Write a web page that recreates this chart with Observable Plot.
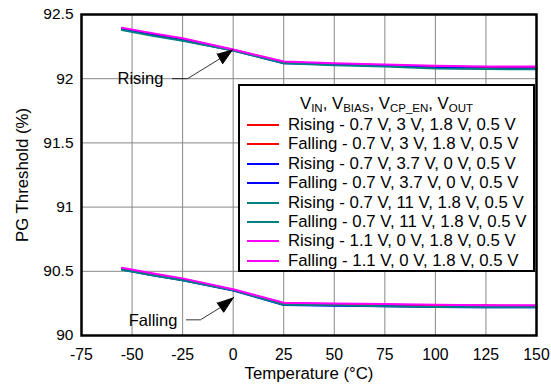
<!DOCTYPE html>
<html>
<head>
<meta charset="utf-8">
<script src="https://cdn.jsdelivr.net/npm/d3@7"></script>
<script src="https://cdn.jsdelivr.net/npm/@observablehq/plot@0.6"></script>
<style>
  html, body { margin: 0; padding: 0; background: #fff; }
  #wrap { position: relative; width: 551px; height: 385px; font-family: "Liberation Sans", Arial, sans-serif; }
  #legend { position: absolute; left: 238px; top: 84px; width: 293px; height: 184px; border: 2px solid #000; background: #fff; font-size: 16.8px; color: #000; }
  #legend .title { position: absolute; left: 0; right: 0; top: 9px; text-align: center; line-height: 18px; }
  #legend sub { font-size: 11.5px; vertical-align: -3px; line-height: 0; }
  #legend .row { position: absolute; left: 0; height: 19px; line-height: 19px; white-space: nowrap; }
  #legend .sw { position: absolute; left: 7px; top: 9px; width: 32px; height: 2px; }
  #legend .lab { position: absolute; left: 48px; top: 0; }
</style>
</head>
<body>
<div id="wrap"></div>
<script>
// ---- data ----
const temps = [-55, -40, -25, 0, 25, 50, 75, 100, 125, 150];
const seriesNames = [
  "Rising - 0.7 V, 3 V, 1.8 V, 0.5 V",
  "Falling - 0.7 V, 3 V, 1.8 V, 0.5 V",
  "Rising - 0.7 V, 3.7 V, 0 V, 0.5 V",
  "Falling - 0.7 V, 3.7 V, 0 V, 0.5 V",
  "Rising - 0.7 V, 11 V, 1.8 V, 0.5 V",
  "Falling - 0.7 V, 11 V, 1.8 V, 0.5 V",
  "Rising - 1.1 V, 0 V, 1.8 V, 0.5 V",
  "Falling - 1.1 V, 0 V, 1.8 V, 0.5 V"
];
const seriesColors = ["#FF0000", "#FF0000", "#0000FF", "#0000FF", "#008080", "#008080", "#FF00FF", "#FF00FF"];
const risingRed     = [92.390, 92.350, 92.310, 92.225, 92.130, 92.115, 92.105, 92.095, 92.090, 92.090];
const fallingRed    = [90.520, 90.480, 90.440, 90.355, 90.250, 90.245, 90.240, 90.235, 90.235, 90.230];
const risingBlue    = [92.385, 92.340, 92.300, 92.220, 92.120, 92.110, 92.100, 92.085, 92.080, 92.080];
const fallingBlue   = [90.514, 90.470, 90.430, 90.350, 90.238, 90.232, 90.228, 90.222, 90.220, 90.220];
const risingTeal    = [92.380, 92.335, 92.295, 92.220, 92.120, 92.105, 92.095, 92.080, 92.075, 92.074];
const fallingTeal   = [90.512, 90.470, 90.430, 90.352, 90.240, 90.235, 90.228, 90.222, 90.220, 90.220];
const risingMagenta = [92.396, 92.355, 92.315, 92.227, 92.134, 92.120, 92.110, 92.100, 92.095, 92.095];
const fallingMagenta= [90.527, 90.485, 90.445, 90.360, 90.255, 90.250, 90.245, 90.240, 90.236, 90.236];
const seriesValues = [risingRed, fallingRed, risingBlue, fallingBlue, risingTeal, fallingTeal, risingMagenta, fallingMagenta];

const xTicks = [-75, -50, -25, 0, 25, 50, 75, 100, 125, 150];
const yTicks = [90, 90.5, 91, 91.5, 92, 92.5];
const xLabel = "Temperature (°C)";
const yLabel = "PG Threshold (%)";
const legendTitle = "V<sub>IN</sub>, V<sub>BIAS</sub>, V<sub>CP_EN</sub>, V<sub>OUT</sub>";

// annotations (data units)
const notes = [
  {text: "Rising", x: -34.5, y: 92.0},
  {text: "Falling", x: -27.6, y: 90.117}
];
const risingShaft = [{x: -30.0, y: 92.0}, {x: -22.6, y: 92.0}, {x: -6.6, y: 92.155}];
const risingHead = [{x: -7.95, y: 92.194}, {x: -5.19, y: 92.116}, {x: -0.25, y: 92.227}];
const fallingShaft = [{x: -23.1, y: 90.122}, {x: -16.2, y: 90.122}, {x: -6.3, y: 90.218}];
const fallingHead = [{x: -7.95, y: 90.255}, {x: -4.69, y: 90.181}, {x: 0.25, y: 90.298}];

// ---- build ----
const data = seriesNames.flatMap((name, i) => temps.map((t, j) => ({name, i, t, v: seriesValues[i][j]})));

const chart = Plot.plot({
  width: 551,
  height: 385,
  marginLeft: 81,
  marginRight: 15,
  marginTop: 14,
  marginBottom: 50,
  style: {fontFamily: '"Liberation Sans", Arial, sans-serif', fontSize: "15.5px", background: "#fff", color: "#000"},
  x: {domain: [-75, 150]},
  y: {domain: [90, 92.5]},
  color: {type: "identity"},
  marks: [
    Plot.gridX(xTicks.slice(1, -1), {stroke: "#888", strokeOpacity: 1, strokeWidth: 1}),
    Plot.gridY(yTicks.slice(1, -1), {stroke: "#888", strokeOpacity: 1, strokeWidth: 1}),
    Plot.axisX({ticks: xTicks, tickSize: 0, tickPadding: 13, tickFormat: d => String(d), label: null, fontSize: 15.8}),
    Plot.axisY({ticks: yTicks, tickSize: 0, tickPadding: 8, tickFormat: d => String(d), label: null, fontSize: 15.5}),
    Plot.text([xLabel], {frameAnchor: "bottom", lineAnchor: "middle", textAnchor: "middle", dy: 38, text: d => d, fontSize: 16.8}),
    Plot.text([yLabel], {frameAnchor: "left", lineAnchor: "middle", textAnchor: "middle", dx: -58.5, rotate: -90, text: d => d, fontSize: 16.8}),
    Plot.line(data, {x: "t", y: "v", z: "name", stroke: d => seriesColors[d.i], strokeWidth: 2}),
    Plot.line(risingShaft, {x: "x", y: "y", stroke: "#000", strokeWidth: 0.8}),
    Plot.line(fallingShaft, {x: "x", y: "y", stroke: "#000", strokeWidth: 0.8}),
    Plot.line(risingHead, {x: "x", y: "y", fill: "#000", stroke: "#000", strokeWidth: 1}),
    Plot.line(fallingHead, {x: "x", y: "y", fill: "#000", stroke: "#000", strokeWidth: 1}),
    Plot.text(notes, {x: "x", y: "y", text: "text", textAnchor: "end", fontSize: 16.5, fill: "#000"}),
    Plot.frame({stroke: "#000", strokeWidth: 2.5})
  ]
});

const wrap = document.getElementById("wrap");
wrap.appendChild(chart);

const legend = document.createElement("div");
legend.id = "legend";
let html = `<div class="title">${legendTitle}</div>`;
seriesNames.forEach((name, i) => {
  html += `<div class="row" style="top:${Math.round(29 + i * 19.4)}px"><div class="sw" style="background:${seriesColors[i]}"></div><div class="lab">${name}</div></div>`;
});
legend.innerHTML = html;
wrap.appendChild(legend);
</script>
</body>
</html>
